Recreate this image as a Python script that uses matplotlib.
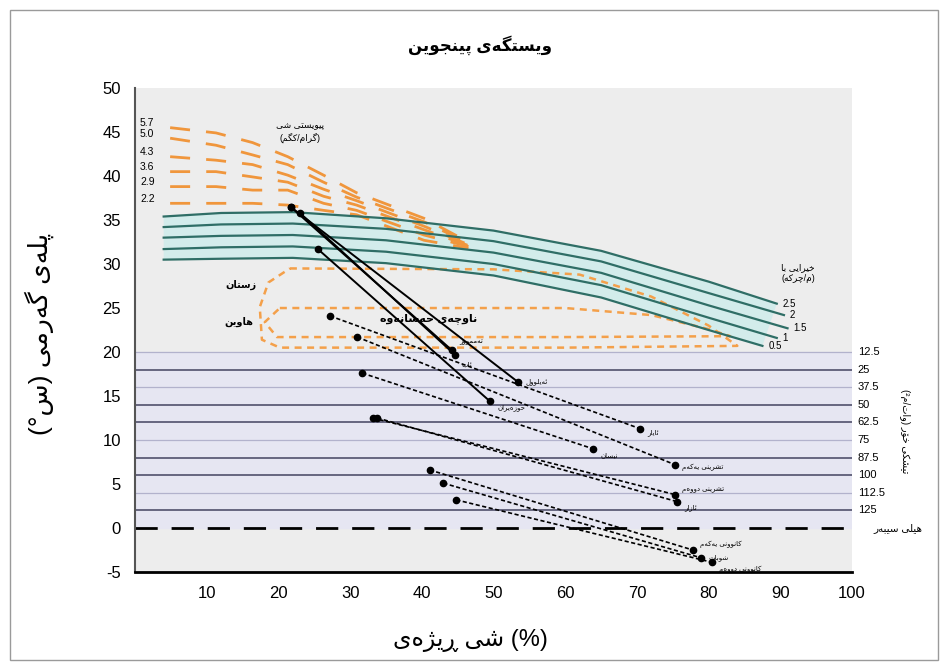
"""Olgyay bioclimatic chart for Penjwen station (Kurdish labels)."""
import re

import matplotlib

matplotlib.use("Agg")
import matplotlib.pyplot as plt
from matplotlib import font_manager, ft2font
from matplotlib.patches import Polygon, Rectangle

plt.rcParams["font.family"] = ["Liberation Sans", "DejaVu Sans"]
plt.rcParams["axes.unicode_minus"] = False

# ---- texts ---------------------------------------------------------------
title = "وێستگەی پێنجوێن"
x_label = "ڕێژەی شێ"
y_label = "پلەی گەرمی (س°)"
moisture_title = "پێویستی شێ\n(گرام/کگم)"
wind_title = "خێرایی با\n(م/چرکە)"
radiation_title = "تیشکی خۆر (وات/م²)"
shade_label = "هێڵی سێبەر"
winter_label = "زستان"
summer_label = "هاوین"
comfort_label = "ناوچەی حەسانەوە"

# ---- axis ticks ----------------------------------------------------------
x_ticks = [10, 20, 30, 40, 50, 60, 70, 80, 90, 100]
y_ticks = [-5, 0, 5, 10, 15, 20, 25, 30, 35, 40, 45, 50]

# ---- monthly climate lines: (min RH, max T) -> (max RH, min T) ----------
months = ["تەممووز", "ئاب", "حوزەیران", "ئەیلوول", "ئایار", "تشرینی یەکەم",
          "نیسان", "تشرینی دووەم", "ئازار", "کانوونی یەکەم", "شوبات", "کانوونی دووەم"]
rh_low = [21.7, 23.0, 25.5, 21.7, 27.2, 31.0, 31.7, 33.2, 33.8, 41.1, 43.0, 44.8]
t_high = [36.5, 35.8, 31.7, 36.5, 24.1, 21.7, 17.6, 12.5, 12.5, 6.6, 5.1, 3.2]
rh_high = [44.2, 44.6, 49.5, 53.4, 70.4, 75.3, 63.9, 75.3, 75.6, 77.8, 79.0, 80.5]
t_low = [20.2, 19.7, 14.4, 16.6, 11.3, 7.2, 9.0, 3.8, 3.0, -2.5, -3.4, -3.9]

# ---- radiation needed (W/m2) lines ---------------------------------------
rad_values = ["12.5", "25", "37.5", "50", "62.5", "75", "87.5", "100", "112.5", "125"]
rad_y = [20, 18, 16, 14, 12, 10, 8, 6, 4, 2]

# ---- wind speed curves (m/s) ---------------------------------------------
wind_labels = ["2.5", "2", "1.5", "1", "0.5"]
wind_x = [
    [4, 12, 22, 35, 50, 65, 80, 89.5],
    [4, 12, 22, 35, 50, 65, 80, 90.5],
    [4, 12, 22, 35, 50, 65, 80, 91.0],
    [4, 12, 22, 35, 50, 65, 80, 89.5],
    [4, 12, 22, 35, 50, 65, 80, 87.5],
]
wind_y = [
    [35.4, 35.8, 35.9, 35.2, 33.8, 31.5, 28.0, 25.5],
    [34.2, 34.5, 34.6, 34.0, 32.6, 30.3, 26.7, 24.2],
    [33.0, 33.2, 33.3, 32.7, 31.3, 29.0, 25.3, 22.7],
    [31.7, 31.9, 32.0, 31.4, 30.0, 27.6, 23.9, 21.6],
    [30.5, 30.6, 30.7, 30.1, 28.7, 26.2, 22.5, 20.7],
]

# ---- evaporative cooling lines (g/kg) ------------------------------------
moisture_labels = ["5.7", "5.0", "4.3", "3.6", "2.9", "2.2"]
evap_x = [4.9, 11.3, 16.4, 21.3, 26.3, 30.9, 40.3, 46.5]
evap_y = [
    [45.5, 44.9, 43.8, 42.2, 40.1, 38.1, 35.2, 32.5],
    [44.3, 43.5, 42.4, 41.3, 39.3, 37.6, 34.8, 32.4],
    [42.2, 41.8, 41.3, 40.1, 38.5, 37.2, 34.3, 32.2],
    [40.5, 40.5, 39.9, 39.3, 37.7, 36.7, 33.9, 32.1],
    [38.8, 38.8, 38.4, 38.4, 36.9, 36.1, 33.3, 32.0],
    [36.9, 36.9, 36.9, 36.7, 36.1, 35.6, 32.7, 31.8],
]

# ---- comfort zone outlines -----------------------------------------------
comfort_outer_x = [21.6, 50.0, 62.0, 72.0, 80.0, 84.0, 60.0, 20.2, 17.7, 17.4, 18.6, 21.6]
comfort_outer_y = [29.5, 29.4, 28.8, 26.3, 23.0, 20.7, 20.5, 20.5, 21.4, 25.1, 27.9, 29.5]
comfort_inner_x = [20.2, 60.0, 72.0, 80.0, 83.0, 60.0, 19.8, 18.1, 20.2]
comfort_inner_y = [25.0, 25.0, 24.2, 22.6, 21.8, 21.7, 21.7, 23.4, 25.0]


# ---- minimal Arabic-script shaping (matplotlib has no text shaping) ------
# forms: isolated, final, initial, medial
FORMS = {
    "\u0627": ("\uFE8D", "\uFE8E", None, None),
    "\u0626": ("\uFE89", "\uFE8A", "\uFE8B", "\uFE8C"),
    "\u0628": ("\uFE8F", "\uFE90", "\uFE91", "\uFE92"),
    "\u062A": ("\uFE95", "\uFE96", "\uFE97", "\uFE98"),
    "\u062C": ("\uFE9D", "\uFE9E", "\uFE9F", "\uFEA0"),
    "\u062D": ("\uFEA1", "\uFEA2", "\uFEA3", "\uFEA4"),
    "\u062E": ("\uFEA5", "\uFEA6", "\uFEA7", "\uFEA8"),
    "\u062F": ("\uFEA9", "\uFEAA", None, None),
    "\u0631": ("\uFEAD", "\uFEAE", None, None),
    "\u0632": ("\uFEAF", "\uFEB0", None, None),
    "\u0633": ("\uFEB1", "\uFEB2", "\uFEB3", "\uFEB4"),
    "\u0634": ("\uFEB5", "\uFEB6", "\uFEB7", "\uFEB8"),
    "\u0639": ("\uFEC9", "\uFECA", "\uFECB", "\uFECC"),
    "\u0644": ("\uFEDD", "\uFEDE", "\uFEDF", "\uFEE0"),
    "\u0645": ("\uFEE1", "\uFEE2", "\uFEE3", "\uFEE4"),
    "\u0646": ("\uFEE5", "\uFEE6", "\uFEE7", "\uFEE8"),
    "\u0647": ("\uFEE9", "\uFEEA", "\uFEEB", "\uFEEC"),
    "\u0648": ("\uFEED", "\uFEEE", None, None),
    "\u067E": ("\uFB56", "\uFB57", "\uFB58", "\uFB59"),
    "\u0686": ("\uFB7A", "\uFB7B", "\uFB7C", "\uFB7D"),
    "\u0698": ("\uFB8A", "\uFB8B", None, None),
    "\u06A9": ("\uFB8E", "\uFB8F", "\uFB90", "\uFB91"),
    "\u06AF": ("\uFB92", "\uFB93", "\uFB94", "\uFB95"),
    "\u06CC": ("\uFBFC", "\uFBFD", "\uFBFE", "\uFBFF"),
    "\u06C6": ("\uFBD9", "\uFBDA", None, None),
    "\u06D5": ("\u06D5", "\uFEEA", None, None),
    "\u0695": ("\u0695", "\uFEAE", None, None),
    "\u06CE": ("\u06CE", "\uFBFD", "\uFBFE", "\uFBFF"),
    "\u06B5": ("\u06B5", "\uFEDE", "\uFEDF", "\uFEE0"),
}
FALLBACK = {"\u06CE": "\u06CC", "\u06D5": "\u0647", "\u0695": "\u0631",
            "\u06B5": "\u0644", "\u06C6": "\u0648"}
_CMAP = set(ft2font.FT2Font(font_manager.findfont("DejaVu Sans")).get_charmap())
_MIRROR = str.maketrans("()", ")(")


def _glyph(ch, k):
    g = FORMS[ch][k]
    if ord(g) in _CMAP:
        return g
    if ch in FALLBACK:
        return _glyph(FALLBACK[ch], k)
    return ch


def _shape(text):
    out = []
    for i, ch in enumerate(text):
        if ch not in FORMS:
            out.append(ch)
            continue
        prev = text[i - 1] if i > 0 else ""
        nxt = text[i + 1] if i + 1 < len(text) else ""
        joins_prev = prev in FORMS and FORMS[prev][2] is not None
        joins_next = FORMS[ch][2] is not None and nxt in FORMS
        k = {(False, False): 0, (True, False): 1, (False, True): 2, (True, True): 3}
        out.append(_glyph(ch, k[(joins_prev, joins_next)]))
    return "".join(out)


def rtl(text):
    """Shape and put right-to-left text into visual (left-to-right) order."""
    lines = []
    for line in text.split("\n"):
        s = _shape(line)[::-1].translate(_MIRROR)
        s = re.sub(r"[0-9A-Za-z.%]+", lambda m: m.group(0)[::-1], s)
        lines.append(s)
    return "\n".join(lines)


# ---- figure ----------------------------------------------------------------
fig = plt.figure(figsize=(9.46, 6.67), dpi=100)
ax = fig.add_axes([0.1427, 0.1424, 0.758, 0.7256])
ax.set_xlim(0, 100)
ax.set_ylim(-5, 50)
ax.set_facecolor("#ededed")

fig.add_artist(Rectangle((0.0106, 0.0105), 0.981, 0.9745, transform=fig.transFigure,
                         fill=False, edgecolor="#9a9a9a", linewidth=1))

# radiation band
ax.axhspan(0, 20, color="#e6e6f2", zorder=0)
rad_dark = [False, True, False, True, True, False, True, True, False, True]
for val, yy, dark in zip(rad_values, rad_y, rad_dark):
    ax.axhline(yy, color="#5c5c76" if dark else "#b2b2cc",
               lw=1.3 if dark else 0.9, zorder=1)
    ax.text(1.008, yy, val, transform=ax.get_yaxis_transform(), fontsize=8,
            ha="left", va="center", clip_on=False)
ax.axhline(0, color="black", lw=2, dashes=(8, 5), zorder=2)
ax.text(1.03, 0, rtl(shade_label), transform=ax.get_yaxis_transform(),
        fontsize=7.5, ha="left", va="center", clip_on=False)
ax.text(1.074, 11, rtl(radiation_title), transform=ax.get_yaxis_transform(),
        fontsize=7, ha="center", va="center", rotation=270, clip_on=False)

# wind speed curves with light band
band = list(zip(wind_x[0], wind_y[0])) + list(zip(wind_x[-1], wind_y[-1]))[::-1]
ax.add_patch(Polygon(band, closed=True, facecolor="#d3eceb", edgecolor="none", zorder=1))
for xs, ys, lab in zip(wind_x, wind_y, wind_labels):
    ax.plot(xs, ys, color="#2f6e66", lw=1.6, zorder=3)
    ax.text(xs[-1] + 0.8, ys[-1], lab, fontsize=7, ha="left", va="center")
ax.text(92.5, 29.0, rtl(wind_title), fontsize=6.5, ha="center", va="center",
        linespacing=1.3)

# evaporative cooling lines
for ys, lab in zip(evap_y, moisture_labels):
    ax.plot(evap_x, ys, color="#f0963c", lw=2, dashes=(7.2, 5.8), zorder=2)
    ax.text(0.7, ys[0] + 0.5, lab, fontsize=7.5, ha="left", va="center")
ax.text(23, 45.0, rtl(moisture_title), fontsize=6.5, ha="center", va="center",
        linespacing=1.3)

# comfort zone
ax.plot(comfort_outer_x, comfort_outer_y, color="#f4a04a", lw=1.8,
        dashes=(2.8, 2.2), zorder=2)
ax.plot(comfort_inner_x, comfort_inner_y, color="#f4a04a", lw=1.8,
        dashes=(2.8, 2.2), zorder=2)
ax.text(17.0, 27.6, rtl(winter_label), fontsize=7, ha="right", va="center",
        fontweight="bold")
ax.text(16.5, 23.4, rtl(summer_label), fontsize=7, ha="right", va="center",
        fontweight="bold")
ax.text(41.0, 23.8, rtl(comfort_label), fontsize=8, ha="center", va="center",
        fontweight="bold", zorder=7)

# monthly lines; summer months solid, the rest dashed
n_summer = 4
label_dy = [1.0, -1.1, -0.7, 0.0, -0.5, -0.3, -0.8, 0.6, -0.7, 0.6, 0.0, -0.8]
for i, name in enumerate(months):
    style = "-" if i < n_summer else (0, (2.5, 1.5))
    ax.plot([rh_low[i], rh_high[i]], [t_high[i], t_low[i]], color="black",
            lw=1.4 if i < n_summer else 1.2, linestyle=style, marker="o",
            ms=4.5, zorder=6)
    ax.text(rh_high[i] + 1.0, t_low[i] + label_dy[i], rtl(name), fontsize=5,
            ha="left", va="center", zorder=7)

# axes cosmetics
ax.set_xticks(x_ticks)
ax.set_yticks(y_ticks)
ax.tick_params(length=0, labelsize=12, pad=10)
for side in ("top", "right"):
    ax.spines[side].set_visible(False)
ax.spines["left"].set_color("#555555")
ax.spines["left"].set_linewidth(1.5)
ax.spines["bottom"].set_linewidth(2)

fig.text(0.507, 0.933, rtl(title), fontsize=12, fontweight="bold",
         ha="center", va="center")
# the reference sets the words of the x label left to right, "(%)" last
x_visual = " ".join(rtl(w) for w in x_label.split()) + " (%)"
fig.text(0.497, 0.04, x_visual, fontsize=17, ha="center", va="center")
fig.text(0.042, 0.50, rtl(y_label), fontsize=19, rotation=90,
         ha="center", va="center")

fig.savefig("out.png", dpi=100)
